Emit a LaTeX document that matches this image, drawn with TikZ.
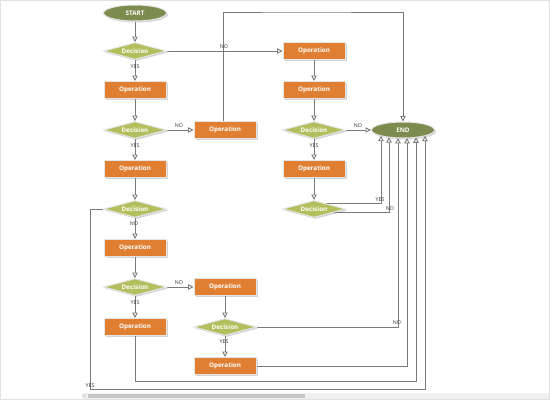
\documentclass[tikz,border=0pt]{standalone}
\usepackage{fontspec}
\newfontfamily\nodefont{Open Sans}
\usetikzlibrary{shapes.geometric,arrows.meta,shadows,backgrounds}
\definecolor{opfill}{HTML}{E07F32}
\definecolor{decfill}{HTML}{B4BE5C}
\definecolor{termfill}{HTML}{7B8C4E}
\definecolor{linec}{HTML}{7A7A7A}
\begin{document}
\begin{tikzpicture}[x=1pt,y=-1pt,
 box/.style={draw=white!90!black, line width=1pt, text=white, font=\nodefont\bfseries\fontsize{6.3}{7}\selectfont, inner sep=0pt, drop shadow={shadow xshift=1.5pt, shadow yshift=-1.5pt, opacity=0.35}},
 op/.style={box, rectangle, fill=opfill, minimum width=62pt, minimum height=17pt},
 dec/.style={box, diamond, aspect=3.6, fill=decfill, minimum width=63pt, minimum height=17pt},
 term/.style={box, ellipse, fill=termfill, minimum width=63pt, minimum height=16pt},
 link/.style={draw=linec, line width=0.9pt},
 conn/.style={link, -{Triangle[length=5.5pt, width=5.5pt, fill=white]}},
 lbl/.style={font=\nodefont\fontsize{5.3}{6}\selectfont, text=black!80, inner sep=0.5pt},
]
\useasboundingbox (0,0) rectangle (550,400);
% frame and scrollbar
\draw[black!12] (0.5,0.5) rectangle (549.5,399.5);
\fill[black!6] (82,393) rectangle (549,399);
\fill[black!22] (88,394) rectangle (305,398);
\node[font=\fontsize{4}{4}\selectfont, text=black!40, inner sep=0] (arrowmark) at (84,396) {$\triangleleft$};

% nodes
\node[term] (START) at (135,13) {START};
\node[dec] (D1) at (135,51) {Decision};
\node[op] (O1) at (135,90) {Operation};
\node[dec] (D2) at (135,130) {Decision};
\node[op] (OA) at (225,130) {Operation};
\node[op] (O2) at (135,169) {Operation};
\node[dec] (D3) at (135,209) {Decision};
\node[op] (O3) at (135,248) {Operation};
\node[dec] (D4) at (135,287) {Decision};
\node[op] (OB) at (225,287) {Operation};
\node[op] (O4) at (135,327) {Operation};
\node[dec] (D5) at (225,327) {Decision};
\node[op] (O5) at (225,366) {Operation};
\node[op] (R1) at (314,51) {Operation};
\node[op] (R2) at (314,90) {Operation};
\node[dec] (RD) at (314,130) {Decision};
\node[op] (R3) at (314,169) {Operation};
\node[dec] (RD2) at (314,209) {Decision};
\node[term] (END) at (403,130) {END};

\coordinate (e1) at (381,135.7);
\coordinate (e2) at (389,137.2);
\coordinate (e3) at (398,137.9);
\coordinate (e4) at (407,137.9);
\coordinate (e5) at (416,137.3);
\coordinate (e6) at (425,135.7);
\coordinate (top) at (300,12);

\begin{scope}[on background layer]
\draw[conn] (START) -- (D1);
\draw[conn] (D1) -- (O1);
\draw[conn] (O1) -- (D2);
\draw[conn] (D2) -- (O2);
\draw[conn] (O2) -- (D3);
\draw[conn] (D3) -- (O3);
\draw[conn] (O3) -- (D4);
\draw[conn] (D4) -- (O4);
\draw[conn] (OB) -- (D5);
\draw[conn] (D5) -- (O5);
\draw[conn] (R1) -- (R2);
\draw[conn] (R2) -- (RD);
\draw[conn] (RD) -- (R3);
\draw[conn] (R3) -- (RD2);
\draw[conn] (D1) -- (R1);
\draw[conn] (D2) -- (OA);
\draw[conn] (D4) -- (OB);
\draw[conn] (RD) -- (END);
\draw[conn] ([xshift=-1.5pt]OA.north) |- (top) -| (END.north);
\draw[conn] (D3.west) -| (90,389) -| (e6);
\draw[conn] (O4.south) |- (416,381) -- (e5);
\draw[conn] (O5.east) -| (e4);
\draw[conn] (D5.east) -| (e3);
\draw[conn] ([yshift=5.5pt]RD2.center) -| (e1);
\draw[conn] ([yshift=-3pt]RD2.center) -| (e2);
\end{scope}

% labels
\node[lbl] (l1) at (135,67) {YES};
\node[lbl] (l2) at (224,46.5) {NO};
\node[lbl] (l3) at (179,126) {NO};
\node[lbl] (l4) at (135,146) {YES};
\node[lbl] (l5) at (134,224) {NO};
\node[lbl] (l6) at (179,283) {NO};
\node[lbl] (l7) at (135,302.5) {YES};
\node[lbl] (l8) at (224,342) {YES};
\node[lbl] (l9) at (90,385.5) {YES};
\node[lbl] (l10) at (358,126) {NO};
\node[lbl] (l11) at (314,146) {YES};
\node[lbl] (l12) at (380,199.5) {YES};
\node[lbl] (l13) at (390,209) {NO};
\node[lbl] (l14) at (397,322.5) {NO};
\end{tikzpicture}
\end{document}
